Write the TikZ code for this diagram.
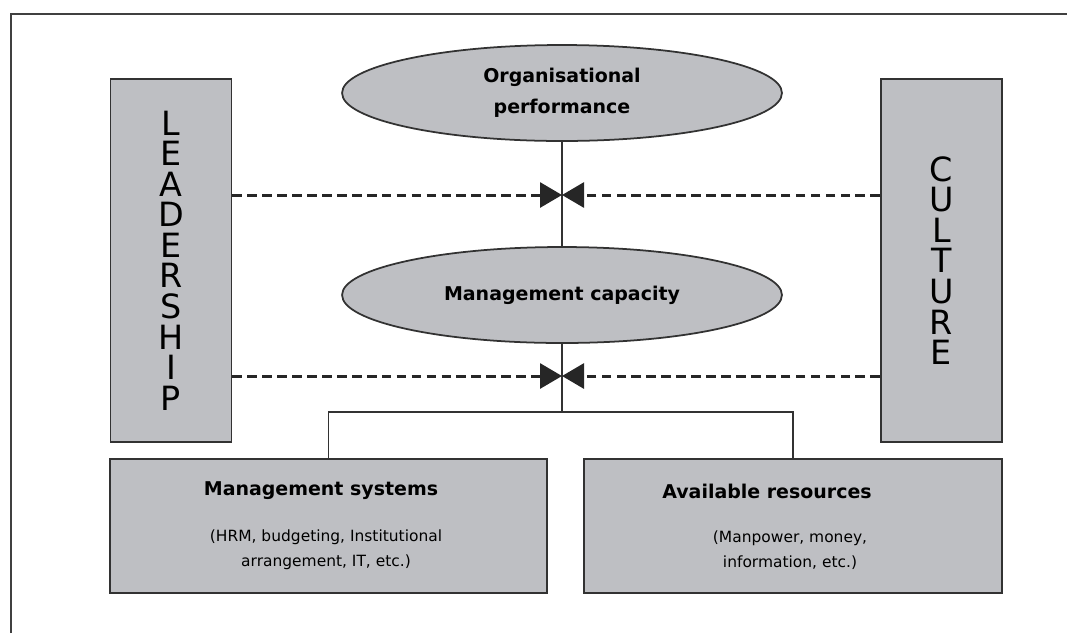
\documentclass[tikz,border=0pt]{standalone}
\usepackage{fontspec}
\setmainfont{DejaVu Sans}
\usepackage{tikz}
\usetikzlibrary{shapes.geometric,arrows.meta,positioning,calc}
\definecolor{boxgray}{RGB}{190,191,195}
\definecolor{edgegray}{RGB}{50,50,50}

\begin{document}
\begin{tikzpicture}[
    x=0.02cm, y=-0.02cm,
    % --- STYLES ---
    sidebar/.style={
        rectangle, draw=edgegray, fill=boxgray,
        line width=1.1pt,
        minimum width=2.42cm,
        minimum height=7.26cm,
        align=center, inner sep=0pt,
        font=\fontsize{19}{17.4}\selectfont
    },
    outcome/.style={
        ellipse, draw=edgegray, fill=boxgray,
        line width=1pt, inner sep=0pt,
        minimum width=8.8cm, minimum height=1.92cm,
        align=center,
        font=\bfseries\fontsize{10.8}{17.6}\selectfont
    },
    base/.style={
        rectangle, draw=edgegray, fill=boxgray,
        line width=1.1pt, inner sep=0pt,
        minimum height=2.68cm
    },
    basetitle/.style={font=\bfseries\fontsize{10.8}{13}\selectfont},
    basenote/.style={align=center, font=\fontsize{8.8}{14.2}\selectfont},
    influence/.style={
        dash pattern=on 5.5pt off 3pt, line width=1.7pt, draw=black!85,
        -{Triangle[length=0.44cm, width=0.5cm]}
    },
    tie/.style={line width=1.1pt, draw=edgegray}
]

\useasboundingbox (0,0) rectangle (1067,633);

% ===== 1. FRAME =====
\draw[line width=0.8pt, draw=black!75] (11,633) -- (11,14) -- (1067,14);

% ===== 2. SIDE BARS =====
\node[sidebar] (lead) at (171,260.5) {L\\E\\A\\D\\E\\R\\S\\H\\I\\P};
\node[sidebar] (cult) at (941.5,260.5) {C\\U\\L\\T\\U\\R\\E};

% ===== 3. CENTRE COLUMN =====
\node[outcome] (perf) at (562,93) {Organisational\\performance};
\node[outcome] (cap) at (562,295) {Management capacity};

\coordinate (hubTop) at (562,195);
\coordinate (hubLow) at (562,376);
\coordinate (fork) at (562,412);

% Bottom boxes
\node[base, minimum width=8.74cm] (msys) at (328.5,526) {};
\node[base, minimum width=8.36cm] (ares) at (793,526) {};

\node[basetitle] (msysTitle) at (321,491) {Management systems};
\node[basenote] (msysNote) at (326,550) {(HRM, budgeting, Institutional\\arrangement, IT, etc.)};

\node[basetitle] (aresTitle) at (767,491) {Available resources};
\node[basenote] (aresNote) at (790,550) {(Manpower, money,\\information, etc.)};

% ===== 4. CONNECTIONS =====
\draw[tie] (perf.south) -- (cap.north);
\draw[tie] (cap.south) -- (fork);
\draw[tie] (fork) -| (msys.north);
\draw[tie] (fork) -| (ares.north);

% -- Dashed influences meeting in the middle --
\draw[influence] (lead.east |- hubTop) -- (hubTop);
\draw[influence] (cult.west |- hubTop) -- (hubTop);
\draw[influence] (lead.east |- hubLow) -- (hubLow);
\draw[influence] (cult.west |- hubLow) -- (hubLow);

\end{tikzpicture}
\end{document}
